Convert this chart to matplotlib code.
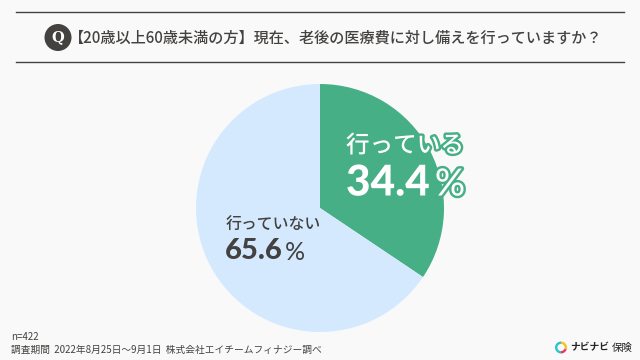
import matplotlib
matplotlib.use("Agg")
import matplotlib.pyplot as plt
from matplotlib.lines import Line2D
from matplotlib.patches import Circle, Wedge
import matplotlib.patheffects as pe

plt.rcParams['font.family'] = ['Noto Sans CJK JP', 'DejaVu Sans']

categories = ["行っている", "行っていない"]
values = [34.4, 65.6]
value_labels = ["34.4", "65.6"]
colors = ["#46AF85", "#D5E9FE"]
title = "【20歳以上60歳未満の方】現在、老後の医療費に対し備えを行っていますか？"
note_n = "n=422"
note_period = "調査期間  2022年8月25日〜9月1日  株式会社エイチームフィナジー調べ"
logo_text = "ナビナビ"
logo_text2 = "保険"

W, H = 640, 360
BG = "#F9F9F9"
INK = "#444240"
fig = plt.figure(figsize=(W / 100, H / 100), dpi=100, facecolor=BG)

ov = fig.add_axes([0, 0, 1, 1], zorder=3)
ov.set_xlim(0, W); ov.set_ylim(H, 0); ov.axis("off"); ov.patch.set_alpha(0)

R = 124
cx, cy = 320, 208
ax = fig.add_axes([(cx - R) / W, 1 - (cy + R) / H, 2 * R / W, 2 * R / H], zorder=1)
ax.pie(values, colors=colors, startangle=90, counterclock=False, radius=1,
       wedgeprops=dict(linewidth=0))
ax.set_xlim(-1, 1); ax.set_ylim(-1, 1)

for y in (11.5, 61.5):
    ov.add_line(Line2D([16, 624], [y, y], color=INK, lw=1.0))

ov.add_patch(Circle((58, 37.5), 13.5, color=INK, lw=0))
ov.text(58, 37, "Q", color="white", fontsize=10.5, fontweight="bold",
        family="DejaVu Serif", ha="center", va="center")
ov.text(69, 38.5, title, color=INK, fontsize=10.9, fontweight="medium", ha="left", va="center")

stroke = [pe.withStroke(linewidth=3.5, foreground=colors[0])]
ov.text(405, 146, categories[0], color="white", fontsize=17, fontweight="medium",
        ha="center", va="center", path_effects=stroke)
ov.text(346, 183.5, value_labels[0], color="white", fontsize=30.5, fontweight="black",
        family="Lato", ha="left", va="center", path_effects=stroke)
ov.text(450, 185, "%", color="white", fontsize=27, fontweight="medium", family="Lato",
        ha="center", va="center", path_effects=stroke)

ov.text(273, 225, categories[1], color=INK, fontsize=11.4, fontweight="medium",
        ha="center", va="center")
ov.text(225, 251, value_labels[1], color=INK, fontsize=21, fontweight="black",
        family="Lato", ha="left", va="center")
ov.text(295, 253, "%", color=INK, fontsize=18, family="Lato", ha="center", va="center")

ov.text(11, 337, note_n, color=INK, fontsize=7, ha="left", va="center")
ov.text(11, 350, note_period, color=INK, fontsize=7, ha="left", va="center")

ov.add_patch(Wedge((561, 347.5), 6, 90, 270, width=2.4, color="#2BC3CF", lw=0))
ov.add_patch(Wedge((561, 347.5), 6, -90, 20, width=2.4, color="#F6C21C", lw=0))
ov.add_patch(Wedge((561, 347.5), 6, 20, 90, width=2.4, color="#E8336D", lw=0))
ov.text(570, 347.5, logo_text, color="#222222", fontsize=7, fontweight="bold", ha="left", va="center")
ov.text(611.5, 347.5, logo_text2, color="#222222", fontsize=7.5, ha="left", va="center")

fig.savefig("out.png", dpi=100, facecolor=BG)
